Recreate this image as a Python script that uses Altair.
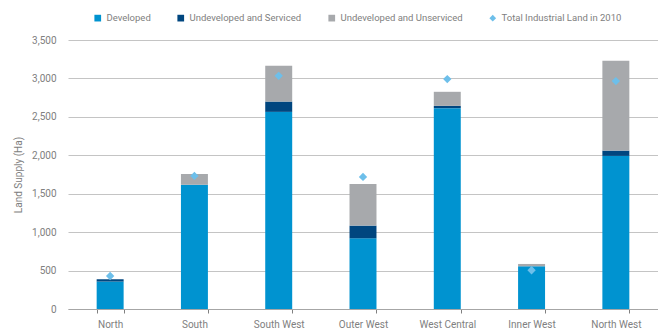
import altair as alt
import pandas as pd

regions = ["North", "South", "South West", "Outer West", "West Central", "Inner West", "North West"]
series_names = ["Developed", "Undeveloped and Serviced", "Undeveloped and Unserviced", "Total Industrial Land in 2010"]
developed = [357, 1618, 2565, 920, 2613, 556, 1992]
serviced = [30, 0, 134, 165, 30, 0, 69]
unserviced = [0, 140, 465, 543, 183, 30, 1168]
total_2010 = [430, 1732, 3034, 1719, 2991, 504, 2965]
y_ticks = [0, 500, 1000, 1500, 2000, 2500, 3000, 3500]
colors = ["#0093D0", "#00467F", "#A7A9AC", "#6DBFEA"]
shapes = ["square", "square", "square", "diamond"]

rows = []
for i, r in enumerate(regions):
    for k, vals in enumerate([developed, serviced, unserviced]):
        rows.append({"region": r, "series": series_names[k], "value": vals[i], "ord": k})
bars_df = pd.DataFrame(rows)
pts_df = pd.DataFrame({"region": regions, "value": total_2010, "series": series_names[3]})

FONT = "Roboto"
GREY = "#808080"

color_scale = alt.Scale(domain=series_names, range=colors)
shape_scale = alt.Scale(domain=series_names, range=shapes)
x_axis = alt.Axis(labelAngle=0, tickBand="extent", domainColor="#a6a6a6",
                  tickColor="#808080", tickSize=4, labelPadding=6, grid=False)
x_scale = alt.Scale(paddingInner=0.68, paddingOuter=0.34)
y_axis = alt.Axis(values=y_ticks, format=",.0f", ticks=False, domain=False, grid=True,
                  gridColor="#c4c4c4", gridWidth=1.2, labelPadding=12, titlePadding=8)
y_scale = alt.Scale(domain=[0, 3500])

legend = alt.Legend(title=None, orient="none", direction="horizontal", legendX=25, legendY=-27,
                    columnPadding=25, symbolSize=45, labelOffset=4, padding=0)

bars = alt.Chart(bars_df).mark_bar().encode(
    x=alt.X("region:N", sort=regions, title=None, scale=x_scale, axis=x_axis),
    y=alt.Y("value:Q", stack="zero", title="Land Supply (Ha)", scale=y_scale, axis=y_axis),
    color=alt.Color("series:N", scale=color_scale, legend=legend),
    order=alt.Order("ord:Q", sort="ascending"),
)
pts = alt.Chart(pts_df).mark_point(filled=True, size=70, opacity=1).encode(
    x=alt.X("region:N", sort=regions, title=None, scale=x_scale, axis=x_axis),
    y=alt.Y("value:Q", title="Land Supply (Ha)", scale=y_scale, axis=y_axis),
    color=alt.Color("series:N", scale=color_scale, legend=legend),
    shape=alt.Shape("series:N", scale=shape_scale, legend=legend),
)

chart = alt.layer(bars, pts).properties(
    width=590, height=269,
    autosize=alt.AutoSizeParams(type="none"),
    padding={"left": 68, "top": 40, "right": 0, "bottom": 21},
).configure_view(stroke=None).configure_axis(
    labelFont=FONT, labelFontSize=10, labelColor=GREY,
    titleFont=FONT, titleFontSize=10, titleColor=GREY, titleFontWeight="normal",
).configure_legend(
    labelFont=FONT, labelFontSize=9.5, labelColor=GREY,
)

chart.save("out.html", embed_options={"renderer": "svg", "actions": False})
